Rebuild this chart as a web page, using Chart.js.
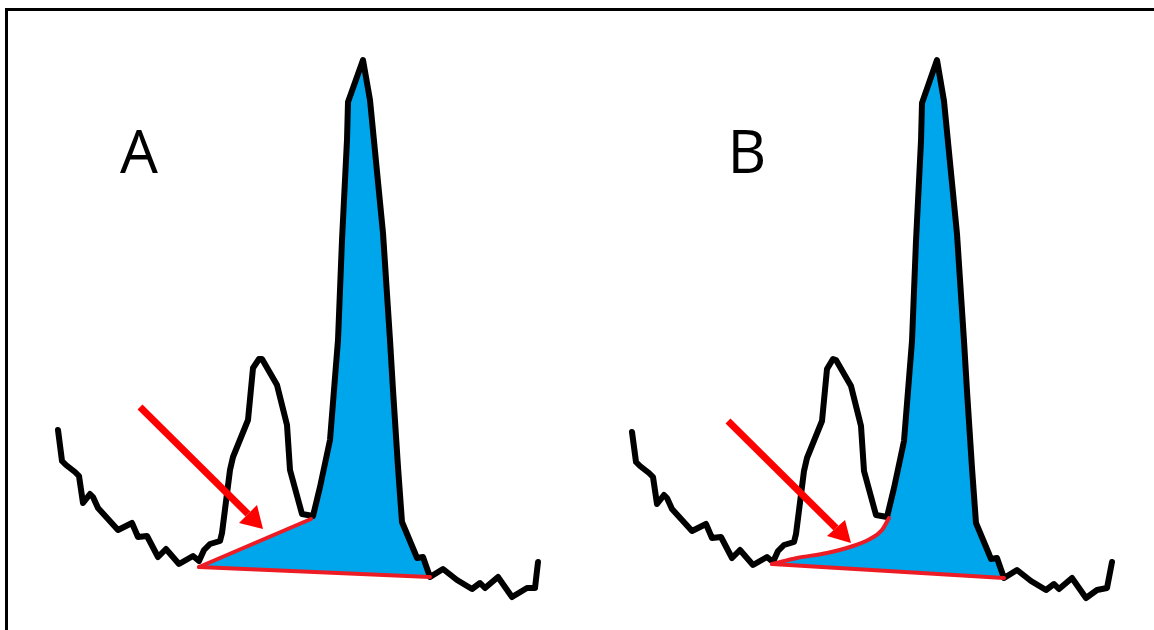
<!DOCTYPE html>
<html>
<head>
<meta charset="utf-8">
<script src="https://cdn.jsdelivr.net/npm/chart.js@4.4.1/dist/chart.umd.min.js"></script>
<style>
  html, body { margin: 0; padding: 0; background: #fff; }
  #wrap { position: relative; width: 1154px; height: 630px; overflow: hidden; }
  #frame { position: absolute; left: 5px; top: 8px; right: -10px; bottom: -10px;
           border-top: 3px solid #000; border-left: 3px solid #000; }
  .lbl { position: absolute; font-family: "Open Sans", "Liberation Sans", sans-serif;
         font-size: 60px; line-height: 1; color: #000; transform: translate(-50%, -50%); }
  canvas { position: absolute; left: 0; top: 0; }
</style>
</head>
<body>
<div id="wrap">
  <canvas id="c" width="1154" height="630"></canvas>
  <div id="frame"></div>
</div>
<script>
// ---- Panel labels ----
const panelLabels = ["A", "B"];
const labelX = [139, 747];
const labelY = [150, 150];

// ---- Panel A: chromatogram trace ----
const traceAX = [58, 62, 66, 75, 79, 83, 90, 93, 98, 118, 132, 138, 147, 158, 166, 179, 193, 199,
  204, 210, 220, 222, 230, 233, 248, 253, 259, 262, 277, 287, 290, 302, 313,
  320, 330, 338, 342, 347, 348, 363, 370, 383, 390, 393, 398, 402, 415, 417, 423, 430,
  443, 457, 472, 480, 485, 498, 512, 527, 535, 538];
const traceAY = [430, 461, 465, 472, 476, 503, 494, 497, 508, 530, 523, 537, 536, 557, 549, 564, 556, 561,
  550, 544, 541, 533, 470, 457, 420, 368, 359, 359, 385, 425, 470, 514, 516,
  487, 440, 340, 240, 140, 102, 60, 100, 233, 340, 390, 467, 522, 553, 558, 557, 577,
  569, 580, 589, 583, 588, 577, 597, 588, 588, 562];

// Panel A: integrated area (blue)
const areaAX = [199, 311, 313, 320, 330, 338, 342, 347, 348, 363, 370, 383, 390, 393, 398, 402, 415, 417, 423, 430];
const areaAY = [567, 519, 516, 487, 440, 340, 240, 140, 102, 60, 100, 233, 340, 390, 467, 522, 553, 558, 557, 577];

// Panel A: red baselines
const baseADropX = [199, 311];
const baseADropY = [567, 519];
const baseAFloorX = [199, 430];
const baseAFloorY = [567, 577];

// Panel A: arrow
const arrowAShaftX = [140, 248];
const arrowAShaftY = [407, 514];
const arrowAHeadX = [239, 257, 263];
const arrowAHeadY = [523, 505, 529];

// ---- Panel B: chromatogram trace ----
const traceBX = [632, 636, 640, 649, 653, 657, 664, 667, 672, 692, 706, 712, 721, 732, 740, 753, 767, 773,
  778, 784, 794, 796, 804, 807, 822, 827, 833, 836, 851, 861, 864, 876, 887,
  894, 904, 912, 916, 921, 922, 937, 944, 957, 964, 967, 972, 976, 989, 991, 997, 1004,
  1017, 1031, 1046, 1054, 1059, 1072, 1086, 1097, 1107, 1112];
const traceBY = [432, 462, 466, 473, 477, 504, 495, 498, 509, 531, 524, 538, 537, 558, 550, 565, 557, 562,
  551, 545, 542, 534, 471, 458, 421, 369, 359, 360, 386, 426, 471, 515, 517,
  488, 441, 341, 241, 141, 103, 60, 101, 234, 341, 391, 468, 523, 554, 559, 558, 578,
  570, 581, 590, 584, 589, 578, 598, 590, 588, 562];

// Panel B: curved (exponential skim) baseline
const skimBX = [772, 797, 827, 850, 870, 882, 889];
const skimBY = [564, 558, 553, 547, 539, 530, 518];

// Panel B: integrated area (blue)
const areaBX = [772, 785, 797, 812, 827, 840, 850, 861, 870, 877, 882, 886, 889, 894, 904, 912, 916, 921, 922, 937, 944, 957, 964, 967, 972, 976, 989, 991, 997, 1004];
const areaBY = [564, 561, 558, 556, 553, 550, 547, 543, 539, 535, 530, 525, 518, 488, 441, 341, 241, 141, 103, 60, 101, 234, 341, 391, 468, 523, 554, 559, 558, 578];

const baseBFloorX = [772, 1004];
const baseBFloorY = [564, 578];

// Panel B: arrow
const arrowBShaftX = [728, 836];
const arrowBShaftY = [421, 528];
const arrowBHeadX = [827, 845, 851];
const arrowBHeadY = [536, 520, 543];

// ---- build ----
const pts = (xs, ys) => xs.map((x, i) => ({ x: x, y: ys[i] }));
const BLACK = "#000000", RED = "#ED1C24", REDARROW = "#FF0000", BLUE = "#00A6EB";

function line(xs, ys, color, width, order, extra) {
  return Object.assign({
    data: pts(xs, ys), showLine: true, borderColor: color, borderWidth: width,
    pointRadius: 0, pointHoverRadius: 0, fill: false, tension: 0, order: order,
    borderJoinStyle: "round", borderCapStyle: "round"
  }, extra || {});
}
function shape(xs, ys, color, order, extra) {
  return Object.assign({
    data: pts(xs, ys), showLine: true, borderColor: color, borderWidth: 0,
    backgroundColor: color, pointRadius: 0, fill: "shape", tension: 0, order: order
  }, extra || {});
}

const datasets = [
  shape(areaAX, areaAY, BLUE, 20),
  shape(areaBX, areaBY, BLUE, 20),
  line(traceAX, traceAY, BLACK, 6, 10),
  line(traceBX, traceBY, BLACK, 6, 10),
  line(baseADropX, baseADropY, RED, 4, 5),
  line(baseAFloorX, baseAFloorY, RED, 4, 5),
  line(baseBFloorX, baseBFloorY, RED, 4, 5),
  line(skimBX, skimBY, RED, 4, 5, { cubicInterpolationMode: "monotone" }),
  line(arrowAShaftX, arrowAShaftY, REDARROW, 7, 2, { borderCapStyle: "butt" }),
  shape(arrowAHeadX, arrowAHeadY, REDARROW, 1),
  line(arrowBShaftX, arrowBShaftY, REDARROW, 7, 2, { borderCapStyle: "butt" }),
  shape(arrowBHeadX, arrowBHeadY, REDARROW, 1)
];

new Chart(document.getElementById("c"), {
  type: "scatter",
  data: { datasets: datasets },
  options: {
    responsive: false, animation: false, devicePixelRatio: 1,
    layout: { padding: 0 },
    plugins: { legend: { display: false }, tooltip: { enabled: false } },
    events: [],
    scales: {
      x: { type: "linear", min: 0, max: 1154, display: false },
      y: { type: "linear", min: 0, max: 630, reverse: true, display: false }
    }
  }
});

const wrap = document.getElementById("wrap");
panelLabels.forEach((t, i) => {
  const d = document.createElement("div");
  d.className = "lbl";
  d.textContent = t;
  d.style.left = labelX[i] + "px";
  d.style.top = labelY[i] + "px";
  wrap.appendChild(d);
});
</script>
</body>
</html>
